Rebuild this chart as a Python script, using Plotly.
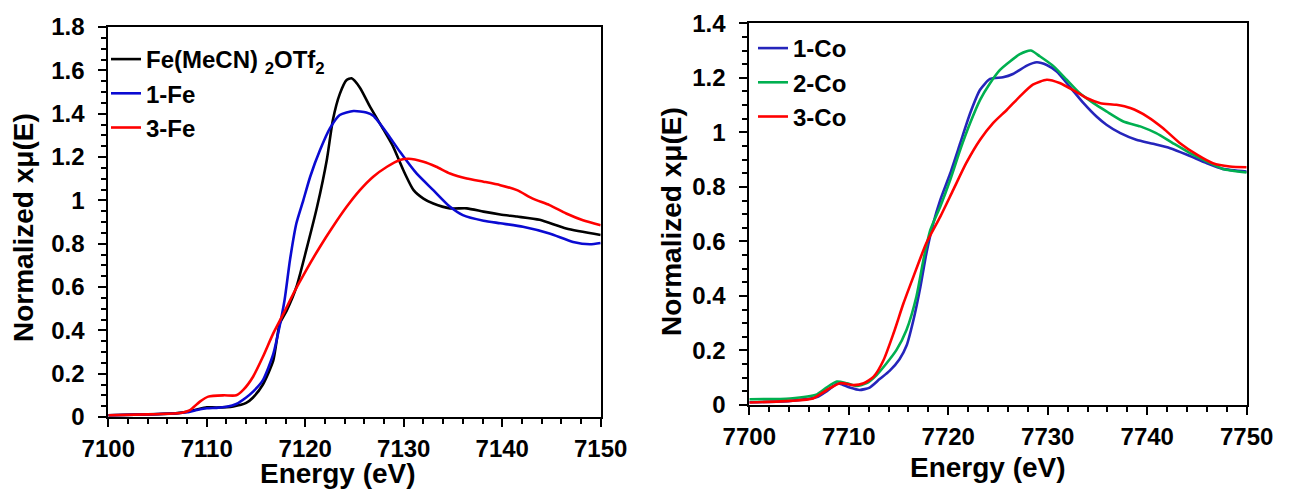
import plotly.graph_objects as go

# ---------------- data: Fe K-edge ----------------
fe_names = ["Fe(MeCN) <sub>2</sub>OTf<sub>2</sub>", "1-Fe", "3-Fe"]
fe_colors = ["#000000", "#0a0ad2", "#ff0000"]

fe_black_E = [7100, 7104, 7107, 7108, 7109, 7110, 7111, 7112.7, 7114, 7114.7, 7115.7, 7116.75, 7117.4, 7118.1,
              7119.1, 7120.1, 7121.2, 7122.2, 7122.8, 7123.5, 7124.2, 7124.7, 7125.55, 7126.6, 7127.9, 7128.9,
              7129.95, 7131, 7132, 7133, 7134.7, 7136.4, 7138.1, 7139.8, 7141.5, 7143.8, 7146.5, 7150]
fe_black_v = [0.008, 0.012, 0.018, 0.024, 0.035, 0.045, 0.044, 0.049, 0.065, 0.09, 0.15, 0.26, 0.43, 0.49,
              0.6, 0.77, 0.97, 1.19, 1.37, 1.49, 1.555, 1.563, 1.52, 1.43, 1.33, 1.25,
              1.14, 1.047, 1.008, 0.985, 0.963, 0.963, 0.948, 0.935, 0.925, 0.91, 0.87, 0.84]

fe_blue_E = [7100, 7104, 7107, 7108, 7109, 7110, 7111, 7112, 7113, 7114, 7114.7, 7115.7, 7116.75, 7117.4,
             7117.9, 7118.45, 7119.1, 7119.8, 7120.5, 7121.5, 7122.5, 7123.5, 7124.9, 7126.2, 7126.9, 7128.3,
             7129.6, 7131.3, 7133, 7134.7, 7136, 7138.1, 7139.8, 7142.1, 7144.8, 7147.2, 7148.9, 7150]
fe_blue_v = [0.008, 0.012, 0.017, 0.022, 0.032, 0.04, 0.042, 0.047, 0.06, 0.09, 0.117, 0.17, 0.29, 0.42,
             0.54, 0.725, 0.894, 1.0, 1.109, 1.232, 1.332, 1.394, 1.412, 1.405, 1.39, 1.31,
             1.225, 1.124, 1.047, 0.97, 0.932, 0.906, 0.894, 0.878, 0.847, 0.808, 0.797, 0.803]

fe_red_E = [7100, 7104, 7106, 7107.5, 7108.3, 7109.3, 7110.15, 7111.7, 7113, 7113.7, 7114.7, 7115.7, 7116.75,
            7117.8, 7118.8, 7120.1, 7121.5, 7122.8, 7124.2, 7125.55, 7126.9, 7128.3, 7129.6, 7130.5, 7132,
            7133.3, 7134.7, 7136.4, 7138.1, 7139.8, 7141.5, 7143.1, 7144.8, 7146.5, 7148.2, 7150]
fe_red_v = [0.008, 0.012, 0.015, 0.02, 0.032, 0.071, 0.094, 0.1, 0.1, 0.125, 0.186, 0.278, 0.386,
            0.478, 0.57, 0.678, 0.786, 0.878, 0.97, 1.047, 1.109, 1.155, 1.186, 1.192, 1.178,
            1.155, 1.124, 1.101, 1.086, 1.07, 1.047, 1.008, 0.978, 0.939, 0.908, 0.885]

# ---------------- data: Co K-edge ----------------
co_names = ["1-Co", "2-Co", "3-Co"]
co_colors = ["#2525bb", "#00b050", "#ff0000"]

co1_E = [7700, 7704.1, 7706.8, 7707.8, 7708.8, 7709.1, 7710.1, 7711.1, 7712.1, 7713.1, 7714.1, 7715.1, 7715.8,
         7716.5, 7717.2, 7717.8, 7718.5, 7719.2, 7720.2, 7721.2, 7722.2, 7723.2, 7724.2, 7725.5, 7726.5, 7727.9,
         7728.9, 7729.9, 7730.9, 7732.2, 7733.6, 7734.9, 7735.9, 7737.3, 7738.9, 7740.6, 7742.3, 7744, 7746,
         7747.6, 7750]
co1_v = [0.01, 0.015, 0.029, 0.051, 0.078, 0.078, 0.064, 0.055, 0.064, 0.095, 0.125, 0.168, 0.217,
         0.312, 0.434, 0.556, 0.667, 0.752, 0.85, 0.96, 1.07, 1.156, 1.196, 1.202, 1.214, 1.245,
         1.257, 1.247, 1.223, 1.168, 1.107, 1.058, 1.028, 0.997, 0.973, 0.958, 0.942, 0.918, 0.887,
         0.866, 0.856]

co2_E = [7700, 7704.1, 7706.8, 7707.8, 7708.8, 7709.8, 7710.8, 7711.8, 7712.8, 7713.8, 7714.8, 7715.8, 7716.8,
         7717.5, 7718.2, 7719.2, 7720.2, 7721.2, 7722.2, 7723.2, 7724.2, 7725.2, 7726.2, 7727.2, 7728.3, 7729.2,
         7730.6, 7731.9, 7733.2, 7734.6, 7735.9, 7737.6, 7739.3, 7740.9, 7742.6, 7744.3, 7746, 7747.6, 7750]
co2_v = [0.021, 0.024, 0.039, 0.065, 0.086, 0.08, 0.07, 0.08, 0.11, 0.153, 0.202, 0.275, 0.398,
         0.532, 0.642, 0.728, 0.826, 0.936, 1.034, 1.119, 1.18, 1.229, 1.26, 1.287, 1.3, 1.279,
         1.242, 1.193, 1.144, 1.107, 1.077, 1.04, 1.022, 0.997, 0.96, 0.924, 0.893, 0.866, 0.853]

co3_E = [7700, 7704.1, 7706.4, 7707.8, 7709.1, 7710.5, 7711.5, 7712.5, 7713.5, 7714.5, 7715.5, 7716.5, 7717.8,
         7719.2, 7720.5, 7721.8, 7723.2, 7724.5, 7725.9, 7727.2, 7728.5, 7729.9, 7731.2, 7732.6, 7733.9, 7735.3,
         7736.9, 7738.3, 7740, 7741.6, 7743.3, 7745, 7746.6, 7748.3, 7750]
co3_v = [0.009, 0.015, 0.024, 0.055, 0.08, 0.073, 0.08, 0.104, 0.165, 0.263, 0.373, 0.471, 0.594,
         0.691, 0.789, 0.887, 0.973, 1.034, 1.083, 1.132, 1.175, 1.193, 1.181, 1.154, 1.126, 1.107,
         1.101, 1.089, 1.058, 1.015, 0.96, 0.918, 0.887, 0.875, 0.872]

x_title = "Energy (eV)"
y_title = "Normalized xμ(E)"

# ---------------- figure ----------------
W, H = 1294, 489
FONT = "Liberation Sans, Arial, sans-serif"

fig = go.Figure()

fe_series = [(fe_black_E, fe_black_v), (fe_blue_E, fe_blue_v), (fe_red_E, fe_red_v)]
for i, ((e, v), n, c) in enumerate(zip(fe_series, fe_names, fe_colors)):
    fig.add_trace(go.Scatter(x=e, y=v, name=n, mode="lines", xaxis="x", yaxis="y",
                             line=dict(color=c, width=2.6, shape="spline", smoothing=0.6),
                             legend="legend", legendgroup="fe%d" % i))

co_series = [(co1_E, co1_v), (co2_E, co2_v), (co3_E, co3_v)]
for i, ((e, v), n, c) in enumerate(zip(co_series, co_names, co_colors)):
    fig.add_trace(go.Scatter(x=e, y=v, name=n, mode="lines", xaxis="x2", yaxis="y2",
                             line=dict(color=c, width=2.6, shape="spline", smoothing=0.6),
                             legend="legend2", legendgroup="co%d" % i))


def px_x(p):
    return p / W


def px_y(p):
    return 1 - p / H


axis_common = dict(showline=True, linecolor="black", linewidth=2, mirror=True,
                   ticks="outside", ticklen=8, tickwidth=2, tickcolor="black",
                   showgrid=False, zeroline=False, automargin=False,
                   tickfont=dict(family=FONT, size=24, color="black", weight="bold"))
x_common = dict(ticklabelstandoff=1, **axis_common)
y_common = dict(ticklabelstandoff=9, **axis_common)

fig.update_layout(
    width=W, height=H,
    margin=dict(l=0, r=0, t=0, b=0, autoexpand=False),
    paper_bgcolor="white", plot_bgcolor="white",
    font=dict(family=FONT, color="black"),
    xaxis=dict(domain=[px_x(108.3), px_x(600.7)], range=[7100, 7150], dtick=10, anchor="y",
               minor=dict(dtick=2, ticks="outside", ticklen=5, tickwidth=1.6, tickcolor="black"),
               **x_common),
    yaxis=dict(domain=[px_y(417), px_y(27)], range=[0, 1.8], dtick=0.2, anchor="x",
               minor=dict(dtick=0.05, ticks="outside", ticklen=5, tickwidth=1.6, tickcolor="black"),
               **y_common),
    xaxis2=dict(domain=[px_x(749.3), px_x(1246.7)], range=[7700, 7750], dtick=10, anchor="y2",
                minor=dict(dtick=2, ticks="outside", ticklen=5, tickwidth=1.6, tickcolor="black"),
                **x_common),
    yaxis2=dict(domain=[px_y(405), px_y(23.3)], range=[0, 1.4], dtick=0.2, anchor="x2",
                minor=dict(dtick=0.05, ticks="outside", ticklen=5, tickwidth=1.6, tickcolor="black"),
                **y_common),
    legend=dict(x=px_x(106), y=px_y(37), xanchor="left", yanchor="top",
                bgcolor="rgba(0,0,0,0)", itemwidth=30, tracegroupgap=0,
                font=dict(family=FONT, size=24, color="black", weight="bold")),
    legend2=dict(x=px_x(753), y=px_y(26), xanchor="left", yanchor="top",
                 bgcolor="rgba(0,0,0,0)", itemwidth=30, tracegroupgap=0,
                 font=dict(family=FONT, size=24, color="black", weight="bold")),
    showlegend=True,
)

title_font = dict(family=FONT, size=28, color="black", weight="bold")
ann = [
    dict(text=x_title, x=px_x(338), y=px_y(473), xanchor="center", yanchor="middle"),
    dict(text=x_title, x=px_x(988), y=px_y(467), xanchor="center", yanchor="middle"),
    dict(text=y_title, x=px_x(23), y=px_y(228), xanchor="center", yanchor="middle", textangle=-90),
    dict(text=y_title, x=px_x(671), y=px_y(222), xanchor="center", yanchor="middle", textangle=-90),
]
for a in ann:
    fig.add_annotation(xref="paper", yref="paper", showarrow=False, font=title_font, **a)

fig.write_html("out.html")
